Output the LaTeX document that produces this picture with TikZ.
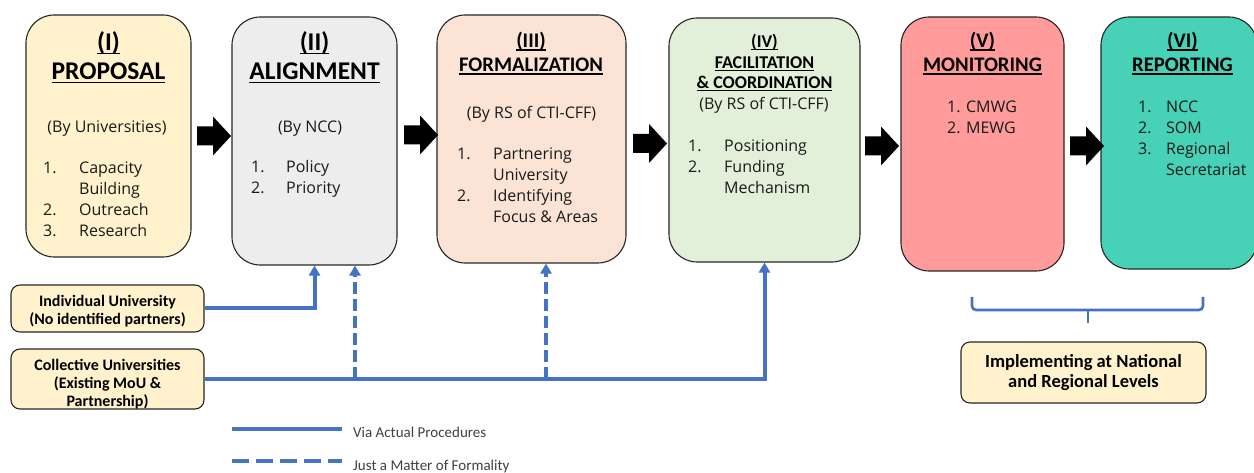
\documentclass[tikz,border=0pt]{standalone}
\usepackage{fontspec}
\setmainfont{Carlito}
\newfontfamily\bodyfont{Open Sans}
\usetikzlibrary{arrows.meta}
\definecolor{cI}{HTML}{FFF2CC}
\definecolor{cII}{HTML}{EDEDED}
\definecolor{cIII}{HTML}{FBE4D5}
\definecolor{cIV}{HTML}{E2EFD9}
\definecolor{cV}{HTML}{FF9B9B}
\definecolor{cVI}{HTML}{47D1B6}
\definecolor{lineblue}{HTML}{4472C4}
\definecolor{legtext}{HTML}{404040}
\definecolor{bodytext}{HTML}{1A1A1A}
\newcommand{\uln}[1]{\setbox0\hbox{#1}\rlap{\rule[-0.13em]{\wd0}{0.06em}}\box0}
\newcommand{\blockarrow}[2]{%
  \fill[black] (#1,#2-9.5) -- (#1+16,#2-9.5) -- (#1+16,#2-19.5) -- (#1+34,#2)
    -- (#1+16,#2+19.5) -- (#1+16,#2+9.5) -- (#1,#2+9.5) -- cycle;}
\newcommand{\itm}[2]{\makebox[#1][l]{#2}}
\begin{document}
\begin{tikzpicture}[x=1pt,y=-1pt,
  stage/.style={draw=black!85, line width=1.1pt, rounded corners=28pt, inner sep=0pt},
  src/.style={draw=black!85, line width=1.1pt, rounded corners=9pt, fill=cI, inner sep=0pt},
  via/.style={draw=lineblue, line width=4pt},
  formal/.style={via, dash pattern=on 12pt off 5pt},
  tip/.style={-{Triangle[width=11pt,length=10pt]}},
  ttl/.style={font=\fontsize{25.5}{30}\selectfont\bfseries, anchor=base, inner sep=0pt},
  ttls/.style={font=\fontsize{20.7}{24}\selectfont\bfseries, anchor=base, inner sep=0pt},
  ttlxs/.style={font=\fontsize{18}{22}\selectfont\bfseries, anchor=base, inner sep=0pt},
  body/.style={font=\bodyfont\fontsize{16}{20.8}\selectfont, text=bodytext, inner sep=0pt},
  srctext/.style={font=\fontsize{16}{18}\selectfont\bfseries, align=center, inner sep=0pt},
  legend/.style={font=\fontsize{15}{18}\selectfont, text=legtext, inner sep=0pt, anchor=west}
]
\useasboundingbox (0,0) rectangle (1254,473);

% stage boxes
\node[stage, fill=cI,   minimum width=165pt, minimum height=242pt] (b1) at (108.5,136) {};
\node[stage, fill=cII,  minimum width=165pt, minimum height=248pt] (b2) at (314.5,141) {};
\node[stage, fill=cIII, minimum width=189pt, minimum height=248pt] (b3) at (531.5,139) {};
\node[stage, fill=cIV,  minimum width=191pt, minimum height=244pt] (b4) at (764.5,140) {};
\node[stage, fill=cV,   minimum width=163pt, minimum height=254pt] (b5) at (982.5,144) {};
\node[stage, fill=cVI,  minimum width=156pt, minimum height=252pt] (b6) at (1179,143) {};

% block arrows
\blockarrow{197}{136}
\blockarrow{404}{135}
\blockarrow{633}{143.5}
\blockarrow{865}{146}
\blockarrow{1070}{146}

% box I
\node[ttl] (t1a) at (108.5,51) {\uln{(I)}};
\node[ttl] (t1b) at (108.5,80) {\uln{PROPOSAL}};
\node[body, anchor=base] (s1) at (107,133) {(By Universities)};
\node[body, anchor=base west] (l1) at (43,174) {\begin{tabular}[t]{@{}l@{}}
\itm{36pt}{1.}Capacity\\ \itm{36pt}{}Building\\ \itm{36pt}{2.}Outreach\\ \itm{36pt}{3.}Research\end{tabular}};

% box II
\node[ttl] (t2a) at (314.5,51) {\uln{(II)}};
\node[ttl] (t2b) at (314.5,80) {\uln{ALIGNMENT}};
\node[body, anchor=base] (s2) at (310,133) {(By NCC)};
\node[body, anchor=base west] (l2) at (251,173) {\begin{tabular}[t]{@{}l@{}}
\itm{35pt}{1.}Policy\\ \itm{35pt}{2.}Priority\end{tabular}};

% box III
\node[ttls] (t3a) at (531,48) {\uln{(III)}};
\node[ttls] (t3b) at (531,72) {\uln{FORMALIZATION}};
\node[body, anchor=base] (s3) at (531.5,119) {(By RS of CTI-CFF)};
\node[body, anchor=base west] (l3) at (457,160) {\begin{tabular}[t]{@{}l@{}}
\itm{36pt}{1.}Partnering\\ \itm{36pt}{}University\\ \itm{36pt}{2.}Identifying\\ \itm{36pt}{}Focus \& Areas\end{tabular}};

% box IV
\node[ttlxs] (t4a) at (764.5,48) {\uln{(IV)}};
\node[ttlxs] (t4b) at (764.5,69) {\uln{FACILITATION}};
\node[ttlxs] (t4c) at (764.5,89) {\uln{\& COORDINATION}};
\node[body, anchor=base] (s4) at (764,110) {(By RS of CTI-CFF)};
\node[body, anchor=base west] (l4) at (688,152) {\begin{tabular}[t]{@{}l@{}}
\itm{36pt}{1.}Positioning\\ \itm{36pt}{2.}Funding\\ \itm{36pt}{}Mechanism\end{tabular}};

% box V
\node[ttls] (t5a) at (982.5,48) {\uln{(V)}};
\node[ttls] (t5b) at (982.5,72) {\uln{MONITORING}};
\node[body, anchor=base west] (l5) at (947,113) {\begin{tabular}[t]{@{}l@{}}
1. CMWG\\ 2. MEWG\end{tabular}};

% box VI
\node[ttls] (t6a) at (1182.5,48) {\uln{(VI)}};
\node[ttls] (t6b) at (1182.5,72) {\uln{REPORTING}};
\node[body, anchor=base west] (l6) at (1138,113) {\begin{tabular}[t]{@{}l@{}}
\itm{28pt}{1.}NCC\\ \itm{28pt}{2.}SOM\\ \itm{28pt}{3.}Regional\\ \itm{28pt}{}Secretariat\end{tabular}};

% source boxes
\node[src, minimum width=193pt, minimum height=47pt] (indiv) at (107.5,308.5) {};
\node[srctext] (indiv-t) at (107.5,311) {Individual University\\(No identified partners)};
\node[src, minimum width=193pt, minimum height=60pt] (coll) at (107.5,379) {};
\node[srctext] (coll-t) at (107.5,384) {Collective Universities\\(Existing MoU \&\\Partnership)};

% connectors
\draw[via, tip] (indiv.east) -| (b2.south);
\draw[via, tip] (coll.east) -| (b4.south);
\coordinate (f1) at (355,379);
\coordinate (f2) at (546,379);
\draw[formal, tip] (f1) -- (f1 |- b2.south);
\draw[formal, tip] (f2) -- (f2 |- b3.south);

% brace
\coordinate (brL) at (972,297);
\coordinate (brR) at (1203,297);
\coordinate (brM) at (1088,310);
\coordinate (brT) at (1088,323);
\draw[lineblue, line width=2.6pt, rounded corners=4pt] (brL) -- (brL |- brM) -- (brR |- brM) -- (brR);
\draw[lineblue, line width=2.6pt] (brM) -- (brT);

% implementing box
\node[src, minimum width=245pt, minimum height=61pt, align=center,
      font=\fontsize{18.5}{20.5}\selectfont\bfseries] (impl) at (1083.5,372.5)
      {Implementing at National\\and Regional Levels};

% legend
\coordinate (la1) at (232,429);
\coordinate (la2) at (342,429);
\coordinate (lb1) at (232,461);
\coordinate (lb2) at (342,461);
\draw[via] (la1) -- (la2);
\draw[via, dash pattern=on 17pt off 7pt] (lb1) -- (lb2);
\node[legend] (lt1) at (353,432) {Via Actual Procedures};
\node[legend] (lt2) at (353,466) {Just a Matter of Formality};
\end{tikzpicture}
\end{document}
